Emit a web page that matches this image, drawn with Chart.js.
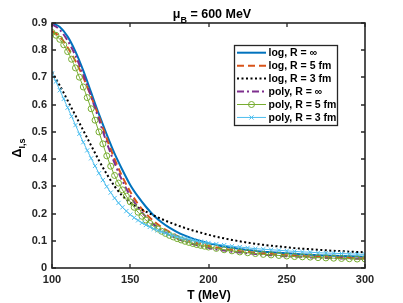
<!DOCTYPE html>
<html><head><meta charset="utf-8">
<script src="https://cdn.jsdelivr.net/npm/chart.js@4/dist/chart.umd.min.js"></script>
<style>html,body{margin:0;padding:0;background:#fff}#wrap{width:403px;height:303px}</style>
</head><body><div id="wrap"><canvas id="c" width="403" height="303"></canvas></div>
<script>
const T = [100,105,110,115,120,125,130,135,140,145,150,155,160,165,170,175,180,185,190,195,200,205,210,215,220,225,230,235,240,245,250,255,260,265,270,275,280,285,290,295,300];
const T2 = [100,102.5,105,107.5,110,112.5,115,117.5,120,122.5,125,127.5,130,132.5,135,137.5,140,142.5,145,147.5,150,152.5,155,157.5,160,162.5,165,167.5,170,172.5,175,177.5,180,182.5,185,187.5,190,192.5,195,197.5,200,205,210,215,220,225,230,235,240,245,250,255,260,265,270,275,280,285,290,295,300];
const logInf = [.900,.885,.850,.795,.725,.645,.565,.490,.420,.360,.305,.262,.225,.193,.168,.148,.132,.119,.108,.099,.091,.085,.079,.074,.070,.066,.063,.060,.058,.056,.054,.052,.050,.049,.047,.046,.045,.044,.043,.042,.041];
const log5 = [.870,.850,.810,.760,.700,.630,.555,.475,.400,.335,.280,.235,.200,.172,.150,.133,.118,.106,.096,.088,.081,.075,.070,.066,.062,.059,.056,.053,.051,.049,.047,.045,.044,.042,.041,.040,.039,.038,.037,.036,.035];
const log3 = [.720,.670,.615,.560,.505,.450,.395,.345,.300,.265,.240,.222,.207,.193,.180,.168,.157,.147,.138,.130,.122,.115,.109,.103,.098,.093,.089,.085,.082,.079,.076,.073,.071,.069,.067,.065,.063,.062,.060,.059,.058];
const polyInf = [.895,.875,.835,.780,.710,.630,.545,.460,.385,.320,.265,.222,.188,.160,.139,.122,.108,.097,.088,.080,.074,.068,.064,.060,.057,.054,.051,.049,.047,.045,.043,.042,.041,.039,.038,.037,.036,.035,.035,.034,.033];
const poly5 = [.865,.855,.840,.820,.795,.767,.735,.701,.665,.626,.585,.543,.500,.456,.412,.374,.340,.312,.287,.264,.243,.223,.205,.190,.176,.164,.153,.144,.135,.127,.120,.114,.108,.103,.098,.094,.090,.086,.083,.080,.077,.072,.067,.063,.059,.056,.053,.050,.048,.046,.044,.042,.041,.040,.038,.037,.036,.035,.034,.033,.033];
const poly3 = [.715,.685,.653,.621,.589,.557,.525,.493,.462,.432,.403,.375,.348,.323,.299,.277,.257,.239,.223,.209,.196,.185,.175,.166,.158,.151,.144,.138,.133,.128,.123,.119,.115,.111,.108,.105,.102,.099,.097,.094,.092,.088,.084,.080,.077,.074,.071,.069,.067,.065,.063,.061,.059,.058,.056,.055,.054,.053,.052,.051,.050];
const labels = ['log, R = \u221E','log, R = 5 fm','log, R = 3 fm','poly, R = \u221E','poly, R = 5 fm','poly, R = 3 fm'];
const xTicks = [100,150,200,250,300];
const yTicks = [0,0.1,0.2,0.3,0.4,0.5,0.6,0.7,0.8,0.9];

const styles = [
 {borderColor:'#0072BD',borderWidth:2,borderDash:[],pointRadius:0},
 {borderColor:'#D95319',borderWidth:2,borderDash:[7,4],pointRadius:0},
 {borderColor:'#000000',borderWidth:2,borderDash:[2,2.5],pointRadius:0},
 {borderColor:'#7E2F8E',borderWidth:2,borderDash:[7,3,2,3],pointRadius:0},
 {borderColor:'#77AC30',borderWidth:1,borderDash:[],pointRadius:3,pointStyle:'circle'},
 {borderColor:'#4DBEEE',borderWidth:1,borderDash:[],pointRadius:3,pointStyle:'crossRot'}
];
const series = [[T,logInf],[T,log5],[T,log3],[T,polyInf],[T2,poly5],[T2,poly3]];
const datasets = series.map(([xs,s],i)=>Object.assign({
  label:labels[i], data:s.map((v,j)=>({x:xs[j],y:v})), fill:false, cubicInterpolationMode:'monotone',
  pointBorderColor:styles[i].borderColor, pointBackgroundColor:'rgba(0,0,0,0)', pointBorderWidth:1,
  order:6-i
}, styles[i]));

const FONT = 'Liberation Sans, Arial, sans-serif';
const deco = {
  id:'deco',
  afterDatasetsDraw(chart){
    const ctx = chart.ctx, a = chart.chartArea, xs = chart.scales.x, ys = chart.scales.y;
    ctx.save();
    ctx.strokeStyle = '#262626'; ctx.lineWidth = 1.6;
    const L=Math.round(a.left), R=Math.round(a.right), Tp=Math.round(a.top), B=Math.round(a.bottom);
    ctx.strokeRect(L, Tp, R-L, B-Tp);
    ctx.lineWidth = 1.3;
    ctx.beginPath();
    xTicks.forEach(t=>{const x=Math.round(xs.getPixelForValue(t)); ctx.moveTo(x,B); ctx.lineTo(x,B-4); ctx.moveTo(x,Tp); ctx.lineTo(x,Tp+4);});
    yTicks.forEach(t=>{const y=Math.round(ys.getPixelForValue(t)); ctx.moveTo(L,y); ctx.lineTo(L+4,y); ctx.moveTo(R,y); ctx.lineTo(R-4,y);});
    ctx.stroke();
    // legend
    const lx=234, ly=45, lw=103, lh=80;
    ctx.fillStyle='#fff'; ctx.fillRect(lx,ly,lw,lh);
    ctx.strokeStyle='#262626'; ctx.lineWidth=1.3; ctx.strokeRect(lx+0.5,ly+0.5,lw,lh);
    ctx.font = 'bold 10.5px '+FONT; ctx.textBaseline='middle'; ctx.textAlign='left';
    datasets.forEach((d,i)=>{
      const y = 52.7 + i*12.95;
      ctx.save();
      ctx.strokeStyle = d.borderColor; ctx.lineWidth = d.pointRadius? 1 : 2;
      ctx.setLineDash(d.borderDash||[]);
      ctx.beginPath(); ctx.moveTo(237,y); ctx.lineTo(266,y); ctx.stroke();
      ctx.setLineDash([]);
      if(d.pointRadius){
        ctx.beginPath();
        if(d.pointStyle==='circle'){ ctx.arc(251.5,y,3,0,Math.PI*2); }
        else { ctx.moveTo(249.4,y-2.1); ctx.lineTo(253.6,y+2.1); ctx.moveTo(249.4,y+2.1); ctx.lineTo(253.6,y-2.1); }
        ctx.stroke();
      }
      ctx.restore();
      ctx.fillStyle='#000'; ctx.fillText(d.label, 268.5, y+0.5);
    });
    // title
    ctx.fillStyle='#000'; ctx.textBaseline='alphabetic'; ctx.textAlign='left';
    const t1='\u03BC', t2='B', t3=' = 600 MeV';
    ctx.font='bold 12.5px '+FONT; const w1=ctx.measureText(t1).width, w3=ctx.measureText(t3).width;
    ctx.font='bold 9px '+FONT; const w2=ctx.measureText(t2).width;
    let x0 = 212 - (w1+w2+w3)/2;
    ctx.font='bold 12.5px '+FONT; ctx.fillText(t1,x0,17.5);
    ctx.font='bold 9px '+FONT; ctx.fillText(t2,x0+w1,22.5);
    ctx.font='bold 12.5px '+FONT; ctx.fillText(t3,x0+w1+w2,17.5);
    // x title
    ctx.textAlign='center'; ctx.font='bold 12px '+FONT; ctx.textBaseline='middle';
    ctx.fillText('T (MeV)', 209, 295.5);
    // y title
    ctx.save(); ctx.translate(16,148); ctx.rotate(-Math.PI/2);
    ctx.textAlign='left'; ctx.textBaseline='alphabetic';
    ctx.font='bold 12.5px '+FONT; const wd=ctx.measureText('\u0394').width;
    ctx.font='bold 9px '+FONT; const ws=ctx.measureText('I,s').width;
    const sx = -(wd+ws)/2;
    ctx.font='bold 12.5px '+FONT; ctx.fillText('\u0394',sx,4.5);
    ctx.font='bold 9px '+FONT; ctx.fillText('I,s',sx+wd,8.5);
    ctx.restore();
    ctx.restore();
  }
};

new Chart(document.getElementById('c'), {
  type:'line',
  data:{datasets},
  options:{
    responsive:false, animation:false, devicePixelRatio:1,
    layout:{padding:{left:0,right:38,top:23,bottom:0}},
    plugins:{legend:{display:false},tooltip:{enabled:false}},
    scales:{
      x:{type:'linear',min:100,max:300,
         afterBuildTicks(s){s.ticks=xTicks.map(v=>({value:v}));},
         afterFit(s){s.height=35;},
         grid:{display:false,drawTicks:false}, border:{display:false},
         ticks:{padding:5,color:'#262626',font:{family:FONT,size:11,weight:'bold'},maxRotation:0}},
      y:{type:'linear',min:0,max:0.9,
         afterBuildTicks(s){s.ticks=yTicks.map(v=>({value:v}));},
         afterFit(s){s.width=52;},
         grid:{display:false,drawTicks:false}, border:{display:false},
         ticks:{padding:5,color:'#262626',font:{family:FONT,size:11,weight:'bold'},callback:v=>v===0?'0':v.toFixed(1)}}
    }
  },
  plugins:[deco]
});
</script></body></html>
